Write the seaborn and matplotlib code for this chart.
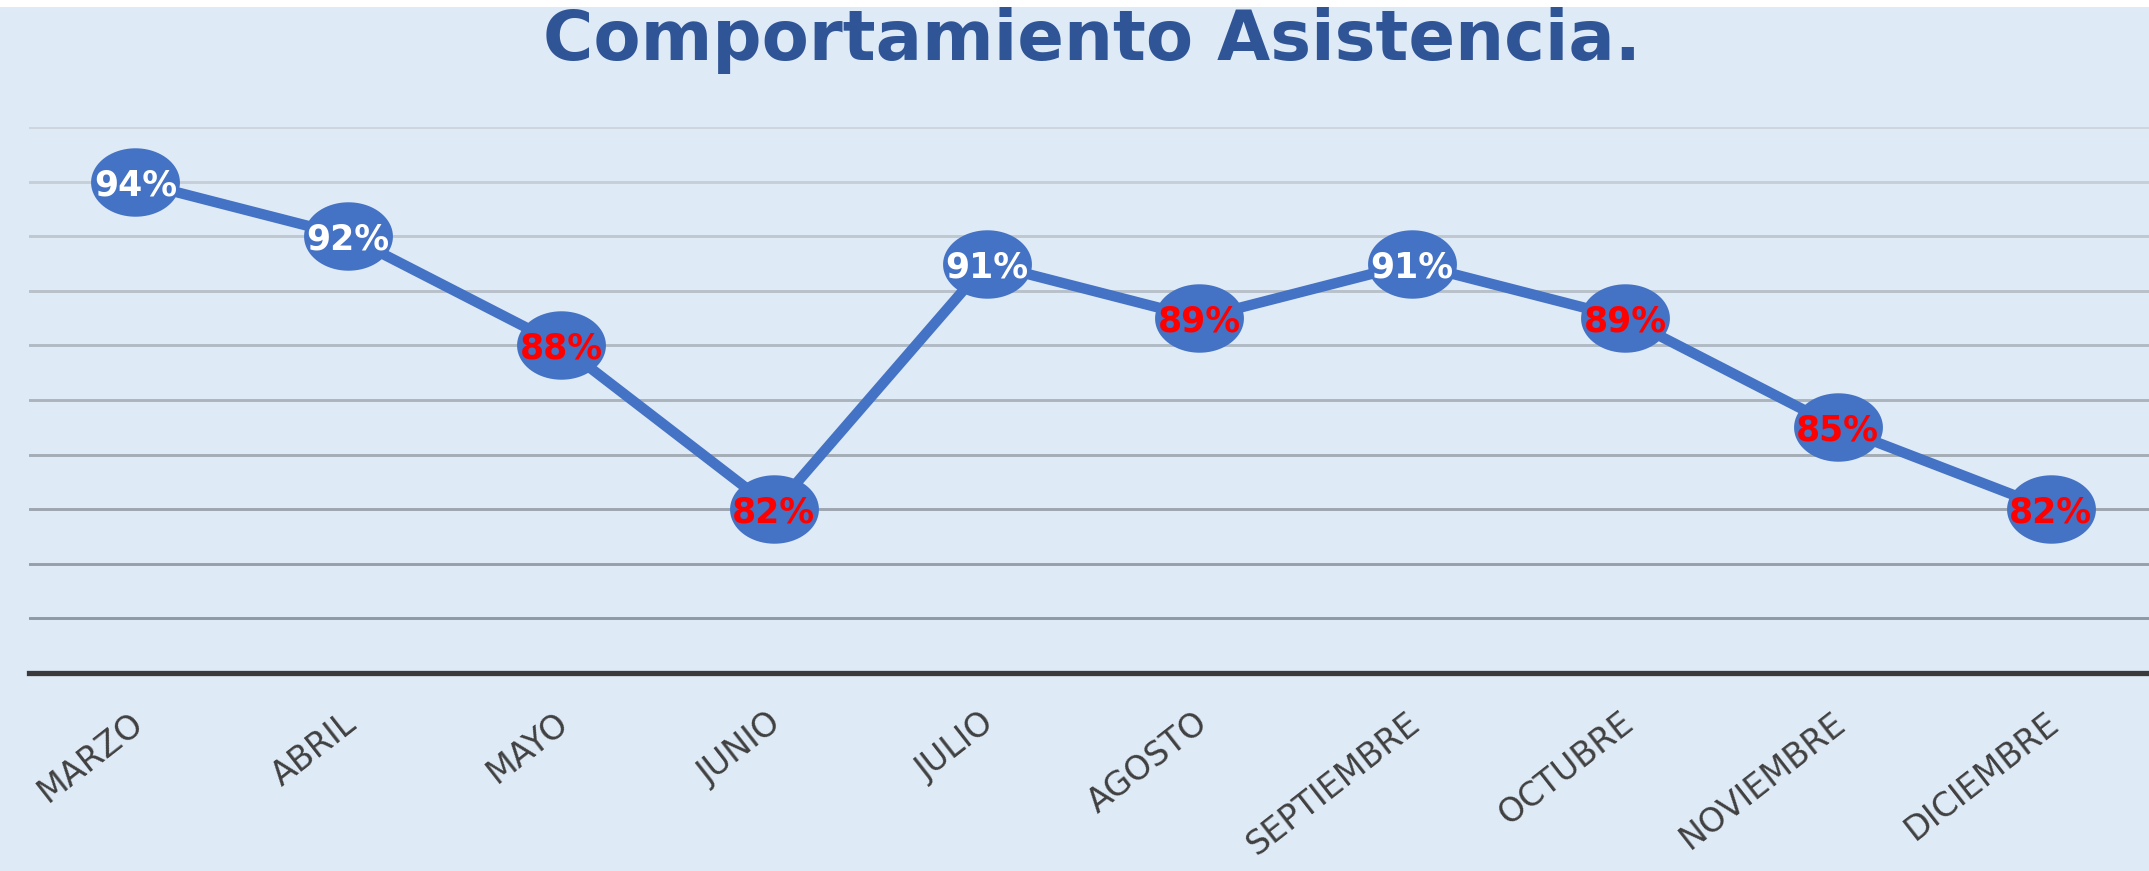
import matplotlib
matplotlib.use("Agg")
import matplotlib.pyplot as plt
import matplotlib.transforms as mtransforms
from matplotlib.path import Path
from matplotlib.patches import Rectangle
import numpy as np
import pandas as pd
import seaborn as sns

# ---- data ----
months = ["MARZO", "ABRIL", "MAYO", "JUNIO", "JULIO", "AGOSTO",
          "SEPTIEMBRE", "OCTUBRE", "NOVIEMBRE", "DICIEMBRE"]
asistencia = [94, 92, 88, 82, 91, 89, 91, 89, 85, 82]
y_ticks = [76, 78, 80, 82, 84, 86, 88, 90, 92, 94, 96]
title = "Comportamiento Asistencia."

df = pd.DataFrame({"mes": months, "valor": asistencia})

BG = "#DEEAF6"
BLUE = "#4472C4"

sns.set_theme(style="white")
plt.rcParams["font.family"] = ["DejaVu Sans"]

fig = plt.figure(figsize=(21.49, 8.71), dpi=100)
fig.patch.set_facecolor(BG)
ax = fig.add_axes([29 / 2149, 198 / 871, (2157 - 29) / 2149, (673 - 127) / 871])
ax.set_facecolor(BG)

# white strip at the very top
fig.patches.append(Rectangle((0, 1 - 7 / 871), 1, 7 / 871, transform=fig.transFigure,
                             facecolor="white", edgecolor="none", zorder=5))

# elliptical marker (wider than tall)
th = np.linspace(0, 2 * np.pi, 80)
ell = Path(np.column_stack([np.cos(th), 0.77 * np.sin(th)]), closed=True)

sns.lineplot(data=df, x="mes", y="valor", ax=ax, sort=False, color=BLUE,
             linewidth=7.5, marker=ell, markersize=64, markeredgewidth=0,
             markerfacecolor=BLUE, zorder=3)

for i, v in enumerate(asistencia):
    col = "white" if v >= 90 else "#FF0000"
    ax.text(i, v, f"{v}%", ha="center", va="center_baseline", fontsize=25,
            fontweight="bold", color=col, zorder=4)

ax.set_xlim(-0.5, len(months) - 0.5)
ax.set_ylim(y_ticks[0], y_ticks[-1])
ax.set_yticks(y_ticks)
ax.set_yticklabels([])
ax.set_xlabel("")
ax.set_ylabel("")
ax.tick_params(axis="both", length=0)

ax.grid(axis="y", linewidth=2.1)
ax.grid(axis="x", visible=False)
glines = ax.get_ygridlines()
n = len(glines)
light = np.array([0xCD, 0xD5, 0xDE]) / 255
dark = np.array([0x88, 0x92, 0x9C]) / 255
for k, gl in enumerate(glines):
    t = k / (n - 1)  # 0 at bottom (dark) -> 1 at top (light)
    gl.set_color(tuple(dark * (1 - t) + light * t))
    gl.set_zorder(1)

for s in ["left", "right", "top"]:
    ax.spines[s].set_visible(False)
ax.spines["bottom"].set_color("#3A3A3A")
ax.spines["bottom"].set_linewidth(3.8)
ax.spines["bottom"].set_zorder(2)

ax.set_xticks(range(len(months)))
ax.set_xticklabels(months, rotation=38, ha="right", va="top",
                   rotation_mode="anchor", fontsize=24, color="#404040")
ax.tick_params(axis="x", pad=24)
off = mtransforms.ScaledTranslation(-6 / 100, 0, fig.dpi_scale_trans)
for lab in ax.get_xticklabels():
    lab.set_transform(lab.get_transform() + off)

fig.text(0.508, 1 - 60 / 871, title, ha="center", va="baseline", fontsize=49.5,
         fontweight="bold", color="#2F5597")

fig.savefig("out.png", dpi=100, facecolor=fig.get_facecolor())
